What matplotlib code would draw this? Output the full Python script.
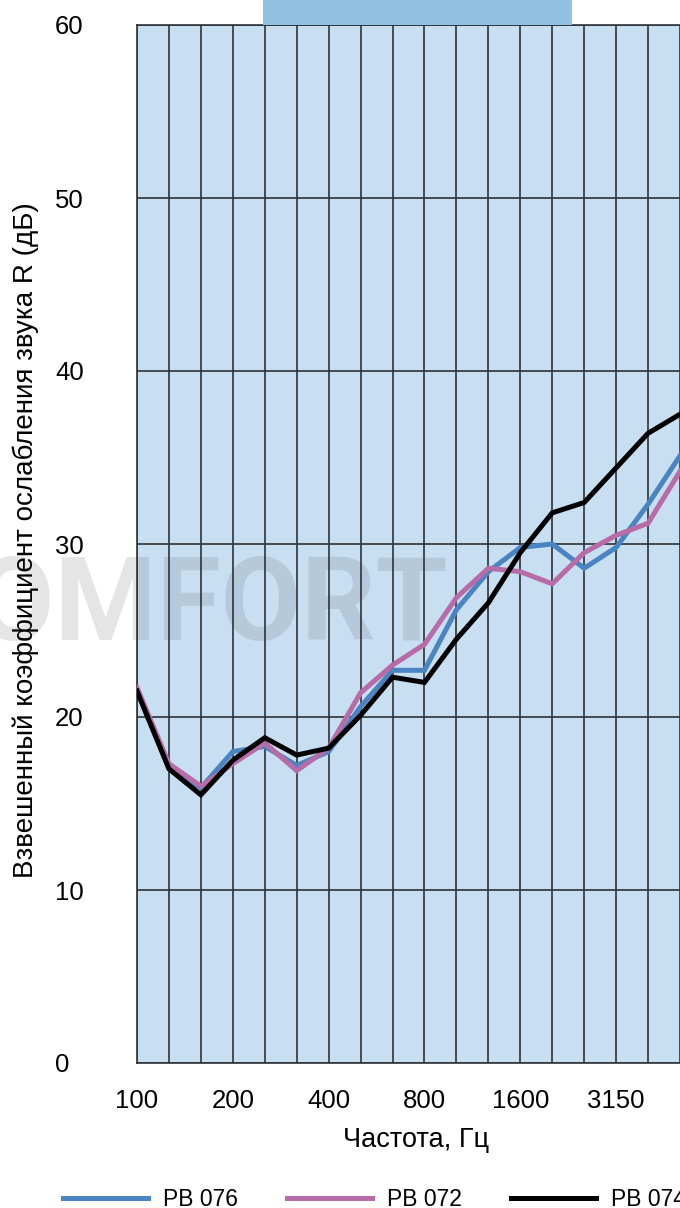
import matplotlib
matplotlib.use("Agg")
import matplotlib.pyplot as plt
from matplotlib.patches import Rectangle

plt.rcParams['font.family'] = ['Liberation Sans', 'DejaVu Sans']

# ---- data ----
freqs = [100, 125, 160, 200, 250, 315, 400, 500, 630, 800, 1000, 1250,
         1600, 2000, 2500, 3150, 4000, 5000]
pb076 = [21.5, 17.1, 15.9, 18.0, 18.3, 17.2, 18.0, 20.6, 22.7, 22.7, 26.2,
         28.4, 29.8, 30.0, 28.6, 29.8, 32.3, 35.1]
pb072 = [21.7, 17.3, 16.0, 17.3, 18.5, 16.9, 18.2, 21.4, 23.0, 24.2, 26.9,
         28.6, 28.4, 27.7, 29.5, 30.5, 31.2, 34.2]
pb074 = [21.5, 17.0, 15.5, 17.5, 18.8, 17.8, 18.2, 20.1, 22.3, 22.0, 24.5,
         26.6, 29.5, 31.8, 32.4, 34.4, 36.4, 37.5]
series_names = ['PB 076', 'PB 072', 'PB 074']
y_ticks = [0, 10, 20, 30, 40, 50, 60]
xlabel = 'Частота, Гц'
ylabel = 'Взвешенный коэффициент ослабления звука R (дБ)'
watermark = 'KOMFORT'

colors = ['#4A84C1', '#B76BA7', '#000000']
grid_color = '#2E3338'

W, H = 680, 1208
fig = plt.figure(figsize=(W / 100, H / 100), dpi=100)
fig.patch.set_facecolor('white')

left, right, bottom, top = 137, 680, 1063, 25
ax = fig.add_axes([left / W, 1 - bottom / H, (right - left) / W, (bottom - top) / H])
ax.set_facecolor('#C8DEF1')

idx = list(range(len(freqs)))
for vals, c, name in zip([pb076, pb072, pb074], colors, series_names):
    ax.plot(idx, vals, color=c, lw=3.6, label=name, zorder=3,
            solid_joinstyle='miter', clip_on=True)

ax.set_xlim(0, (right - left) / 32.47)
ax.set_ylim(0, 60)
ax.set_xticks(idx)
ax.set_xticklabels([str(f) if i % 3 == 0 else '' for i, f in enumerate(freqs)])
ax.set_yticks(y_ticks)
ax.set_yticklabels([str(v) for v in y_ticks])

ax.set_axisbelow(True)
ax.grid(True, color=grid_color, lw=1.2)
ax.tick_params(axis='x', length=0, pad=19, labelsize=18.5)
ax.tick_params(axis='y', length=0, pad=59, labelsize=18.5)
for lab in ax.get_yticklabels():
    lab.set_horizontalalignment('left')

for s in ['left', 'top', 'bottom']:
    ax.spines[s].set_color(grid_color)
    ax.spines[s].set_linewidth(1.2)
ax.spines['right'].set_visible(False)

ax.set_xlabel(xlabel, fontsize=19.5)
ax.xaxis.label.set_va('baseline')
ax.xaxis.set_label_coords((416 - left) / (right - left), -(1147 - bottom) / (bottom - top))

ax.set_ylabel(ylabel, fontsize=20)
ax.yaxis.label.set_va('center')
ax.yaxis.label.set_rotation_mode('anchor')
ax.yaxis.set_label_coords((26 - left) / (right - left), (bottom - 540) / (bottom - top))

# watermark
ax.text(448 / W, 1 - 640 / H, watermark, transform=fig.transFigure,
        ha='right', va='baseline', fontsize=84, fontweight='bold',
        color='#3C3C3C', alpha=0.13, zorder=0.3, clip_on=False,
        family=['Roboto', 'DejaVu Sans'])

# header box at top
fig.patches.append(Rectangle((263 / W, 1 - 25 / H), (572 - 263) / W, 25 / H,
                             transform=fig.transFigure, facecolor='#91C1E3',
                             edgecolor='none', zorder=0))

fs_leg = 16.5
leg = fig.legend(loc='center left', bbox_to_anchor=(63 / W, 1 - 1200 / H),
                 ncol=3, frameon=False, fontsize=fs_leg, borderpad=0,
                 borderaxespad=0, handlelength=85 / (fs_leg * 100 / 72),
                 handletextpad=15 / (fs_leg * 100 / 72),
                 columnspacing=49 / (fs_leg * 100 / 72))
for line in leg.get_lines():
    line.set_linewidth(3.6)

fig.savefig('out.png', dpi=100)
